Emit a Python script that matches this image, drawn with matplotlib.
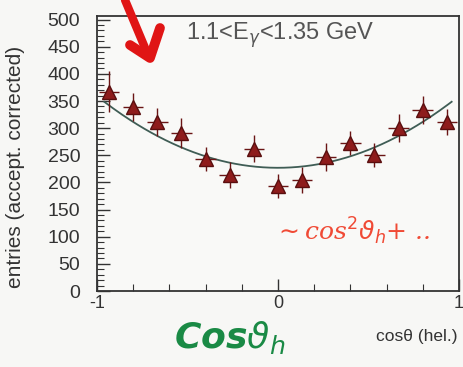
import numpy as np
import matplotlib.pyplot as plt
from matplotlib.ticker import MultipleLocator

plt.rcParams['font.family'] = ['Liberation Sans', 'DejaVu Sans']

# helicity-angle distribution, 15 bins in cos(theta)
nbins = 15
entries = [367, 339, 312, 291, 244, 214, 262, 194, 205, 247, 273, 251, 301, 334, 312]
errors = [38, 26, 26, 28, 22, 24, 25, 22, 24, 26, 22, 22, 26, 26, 24]

# fit a + b*cos^2
fit_a = 227
fit_b = 132

edges = np.linspace(-1, 1, nbins + 1)
centers = 0.5 * (edges[1:] + edges[:-1])
halfw = 0.5 * (edges[1] - edges[0])

fig = plt.figure(figsize=(4.64, 3.67), dpi=100)
fig.patch.set_facecolor('#f7f7f5')
ax = fig.add_axes([0.209, 0.207, 0.780, 0.75])
ax.set_facecolor('#f9f9f7')

xx = np.linspace(-0.96, 0.96, 200)
ax.plot(xx, fit_a + fit_b * xx**2, color='#3f5d55', lw=1.3, zorder=2)

ax.errorbar(centers, entries, yerr=errors, xerr=halfw * 0.85, fmt='none',
            ecolor='#6a1515', elinewidth=1.0, capsize=0, zorder=3)
ax.plot(centers, entries, '^', color='#8e1c1c', mec='#5a0f0f', ms=9.5, zorder=4)

ax.set_xlim(-1, 1)
ax.set_ylim(0, 507)
ax.set_xticks([-1, 0, 1])
ax.set_xticklabels(['-1', '0', '1'])
ax.xaxis.set_minor_locator(MultipleLocator(0.2))
ax.set_yticks(np.arange(0, 501, 50))
ax.yaxis.set_minor_locator(MultipleLocator(10))
ax.tick_params(direction='in', labelsize=14, colors='#333333', length=9, width=1.0)
ax.tick_params(which='minor', direction='in', length=5, width=0.8, color='#333333')
ax.tick_params(axis='y', pad=12)
ax.tick_params(axis='x', labelsize=13, pad=3)
ax.tick_params(top=False, right=False)
for s in ax.spines.values():
    s.set_color('#333333')
    s.set_linewidth(1.3)

ax.set_ylabel('entries (accept. corrected)', fontsize=15, color='#333333', labelpad=8)
ax.yaxis.set_label_coords(-0.2, 0.45)
fig.text(0.985, 0.07, 'cos\u03b8 (hel.)', fontsize=12.5, color='#333333', ha='right')
ax.text(0.245, 0.93, r'1.1<E$_\gamma$<1.35 GeV', transform=ax.transAxes,
        fontsize=17, color='#555555', va='center')

# handwritten notes
fig.text(0.76, 0.37, r'$\sim$cos$^2\vartheta_h$+ ..', fontsize=18, color='#f04a35',
         style='italic', family=['DejaVu Serif'], ha='center', va='center')
fig.text(0.375, 0.08, r'Cos$\vartheta_h$', fontsize=26, color='#1a8a45',
         fontweight='bold', style='italic', family=['DejaVu Sans'], va='center')
fig.add_artist(plt.Line2D([125/464, 148/464], [1, 1 - 55/367], color='#e01515', lw=6,
                          solid_capstyle='round', transform=fig.transFigure))
fig.add_artist(plt.Line2D([130/464, 150/464, 160/464], [1 - 45/367, 1 - 58/367, 1 - 28/367],
                          color='#e01515', lw=7, solid_capstyle='round',
                          solid_joinstyle='round', transform=fig.transFigure))

fig.savefig('out.png', dpi=100, facecolor=fig.get_facecolor())
